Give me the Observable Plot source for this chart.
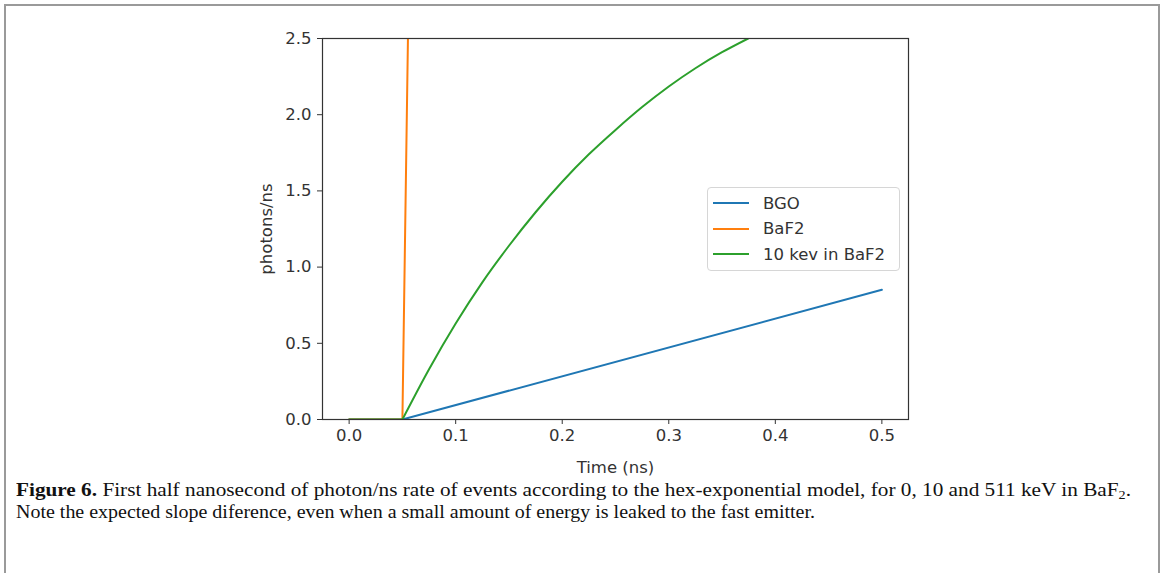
<!DOCTYPE html>
<html>
<head>
<meta charset="utf-8">
<script src="https://cdn.jsdelivr.net/npm/d3@7"></script>
<script src="https://cdn.jsdelivr.net/npm/@observablehq/plot@0.6"></script>
<style>
  html, body { margin: 0; padding: 0; background: #fff; }
  #wrap { position: relative; width: 1165px; height: 573px; overflow: hidden; background: #fff; }
  #border { position: absolute; left: 4px; top: 4px; width: 1156px; height: 600px; border: 2px solid #9a9a9a; border-bottom: none; box-sizing: border-box; }
  #chart { position: absolute; left: 0; top: 0; }
  #legend { position: absolute; left: 707px; top: 187px; width: 193px; height: 84px; box-sizing: border-box;
            border: 1px solid #d6d6d6; border-radius: 4px; background: rgba(255,255,255,0.85);
            font-family: "DejaVu Sans", sans-serif; font-size: 16.5px; color: #333; }
  .item { position: absolute; left: 4px; height: 20px; display: flex; align-items: center; }
  .item svg { margin-right: 13px; }
  .cap { position: absolute; left: 16px; font-family: "Liberation Serif", "Times New Roman", serif; font-size: 19.5px;
         line-height: 20px; white-space: nowrap; color: #111; transform-origin: 0 50%; }
  .cap sub { font-size: 13px; vertical-align: -3px; line-height: 0; }
</style>
</head>
<body>
<div id="wrap">
  <div id="border"></div>
  <div id="chart"></div>
  <div id="legend"></div>
  <div class="cap" id="cap1" style="top:480px"><b>Figure 6.</b> First half nanosecond of photon/ns rate of events according to the hex-exponential model, for 0, 10 and 511 keV in BaF<sub>2</sub>.</div>
  <div class="cap" id="cap2" style="top:502px">Note the expected slope diference, even when a small amount of energy is leaked to the fast emitter.</div>
</div>
<script>
// ---- data ----
const seriesNames = ["BGO", "BaF2", "10 kev in BaF2"];
const seriesColors = ["#1f77b4", "#ff7f0e", "#2ca02c"];

const bgoTime = [0, 0.05, 0.5];
const bgoRate = [0, 0, 0.851];

const baf2Time = [0, 0.05, 0.0552];
const baf2Rate = [0, 0, 2.5];

const kevTime = [0, 0.05, 0.075, 0.1, 0.125, 0.15, 0.175, 0.2, 0.225, 0.25, 0.275, 0.3, 0.325, 0.35, 0.3745];
const kevRate = [0, 0, 0.33, 0.63, 0.90, 1.14, 1.36, 1.56, 1.74, 1.90, 2.05, 2.185, 2.305, 2.41, 2.5];

const xTicks = [0, 0.1, 0.2, 0.3, 0.4, 0.5];
const yTicks = [0, 0.5, 1.0, 1.5, 2.0, 2.5];
const xLabel = "Time (ns)";
const yLabel = "photons/ns";

// ---- tables ----
const toRows = (ts, vs, s) => ts.map((t, i) => ({time: t, rate: vs[i], series: s}));
const bgo = toRows(bgoTime, bgoRate, seriesNames[0]);
const baf2 = toRows(baf2Time, baf2Rate, seriesNames[1]);
const kevFlat = toRows(kevTime.slice(0, 2), kevRate.slice(0, 2), seriesNames[2]);
const kevRise = toRows(kevTime.slice(1), kevRate.slice(1), seriesNames[2]);

const fmt = d3.format(".1f");
const font = "'DejaVu Sans', sans-serif";

const plot = Plot.plot({
  width: 1165,
  height: 480,
  marginLeft: 322,
  marginRight: 257,
  marginTop: 38,
  marginBottom: 61,
  style: {fontFamily: font, fontSize: "16.5px", color: "#333", background: "transparent"},
  x: {domain: [-0.025, 0.525]},
  y: {domain: [0, 2.5]},
  color: {domain: seriesNames, range: seriesColors},
  marks: [
    Plot.line(bgo, {x: "time", y: "rate", stroke: "series", strokeWidth: 2, clip: true}),
    Plot.line(baf2, {x: "time", y: "rate", stroke: "series", strokeWidth: 2, clip: true}),
    Plot.line(kevFlat, {x: "time", y: "rate", stroke: "series", strokeWidth: 2, clip: true}),
    Plot.line(kevRise, {x: "time", y: "rate", stroke: "series", strokeWidth: 2, curve: "monotone-x", clip: true}),
    Plot.frame({stroke: "#333", strokeWidth: 1.2}),
    Plot.axisX({ticks: xTicks, tickFormat: fmt, tickSize: 5, tickPadding: 5, stroke: "#333",
                label: xLabel, labelAnchor: "center", labelArrow: "none", labelOffset: 53}),
    Plot.axisY({ticks: yTicks, tickFormat: fmt, tickSize: 5, tickPadding: 6, stroke: "#333",
                label: yLabel, labelAnchor: "center", labelArrow: "none", labelOffset: 62})
  ]
});
document.getElementById("chart").appendChild(plot);

// ---- legend ----
const legend = document.getElementById("legend");
seriesNames.forEach((name, i) => {
  const item = document.createElement("div");
  item.className = "item";
  item.style.top = (5 + i * 25.5) + "px";
  item.innerHTML = `<svg width="38" height="4"><line x1="1" y1="2" x2="37" y2="2" stroke="${seriesColors[i]}" stroke-width="2.2"/></svg><span>${name}</span>`;
  legend.appendChild(item);
});

// ---- caption fitting to the reference line widths ----
[["cap1", 1115], ["cap2", 799]].forEach(([id, w]) => {
  const el = document.getElementById(id);
  const cw = el.getBoundingClientRect().width;
  el.style.transform = `scaleX(${w / cw})`;
});
</script>
</body>
</html>
